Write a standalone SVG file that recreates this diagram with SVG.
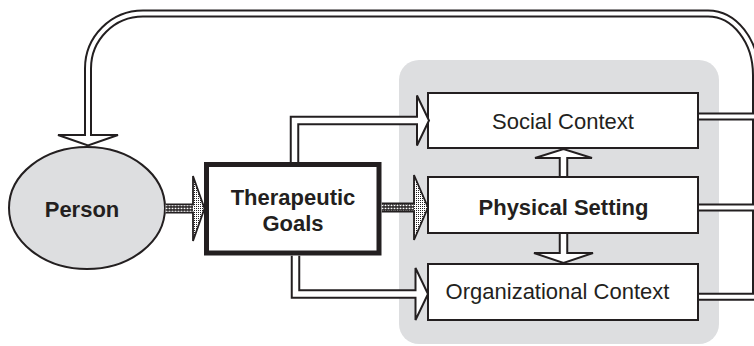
<svg xmlns="http://www.w3.org/2000/svg" width="754" height="346" viewBox="0 0 754 346">
<defs>
<style>
.t{font-family:"Liberation Sans",Arial,Helvetica,sans-serif;font-size:22px;fill:#231f20;text-anchor:middle}
.b{font-weight:bold}
.box{fill:#fff;stroke:#231f20;stroke-width:2}
.ob{fill:none;stroke:#231f20;stroke-width:9.5;stroke-linejoin:miter;stroke-linecap:butt}
.iw{fill:none;stroke:#fff;stroke-width:5.5;stroke-linejoin:miter;stroke-linecap:butt}
.obl{fill:none;stroke:#231f20;stroke-width:8;stroke-linejoin:miter;stroke-linecap:butt}
.iwl{fill:none;stroke:#fff;stroke-width:4;stroke-linejoin:miter;stroke-linecap:butt}
.head{fill:#fff;stroke:#231f20;stroke-width:2;stroke-linejoin:miter}
.dot{fill:url(#pLight);stroke:#231f20;stroke-width:1.8;stroke-linejoin:miter}
</style>
<pattern id="pDark" width="3" height="3" patternUnits="userSpaceOnUse"><rect width="3" height="3" fill="#231f20"/><rect x="0.6" y="0.7" width="1.8" height="1.5" fill="#fff"/></pattern>
<pattern id="pLight" width="2" height="2" patternUnits="userSpaceOnUse"><rect width="2" height="2" fill="#fff"/><rect width="1" height="1" fill="#231f20"/></pattern>
</defs>
<g id="context-panel"><rect x="399" y="60" width="320" height="284" rx="20" fill="#dddee0"/></g>
<g id="person"><ellipse cx="87" cy="208" rx="78" ry="61" fill="#dddee0" stroke="#231f20" stroke-width="2"/><text class="t b" x="82" y="217">Person</text></g>
<g id="therapeutic-goals"><rect x="206.5" y="164.5" width="172.5" height="88.5" fill="#fff" stroke="#231f20" stroke-width="5"/><text class="t b" x="293" y="204.5">Therapeutic</text><text class="t b" x="293" y="230.5">Goals</text></g>
<g id="social-context"><rect class="box" x="428" y="93" width="270" height="55"/><text class="t" x="563" y="128.5">Social Context</text></g>
<g id="physical-setting"><rect class="box" x="428" y="177" width="270" height="56"/><text class="t b" x="563.5" y="215">Physical Setting</text></g>
<g id="organizational-context"><rect class="box" x="428" y="264" width="270" height="56"/><text class="t" x="557.5" y="299">Organizational Context</text></g>
<g id="connectors">
<path class="obl" d="M699,296.7 H756 V75 A48,61.5 0 0 0 708,13.5 H143 A55,55 0 0 0 88,68.5 V136"/>
<path class="obl" d="M699,116.5 H756"/>
<path class="obl" d="M699,207.5 H756"/>
<path class="ob" d="M294.5,162 V120.5 H418"/>
<path class="ob" d="M295.5,255.75 V294 H417"/>
<path class="ob" d="M563.5,176 V158"/>
<path class="ob" d="M563.5,234 V253"/>
<polygon class="head" points="58,135 118,135 88,145.5"/>
<polygon class="head" points="417,95.5 429,120.5 417,145.5"/>
<polygon class="head" points="415.5,268 428,294 415.5,320"/>
<polygon class="head" points="535,158 592,158 563.5,149"/>
<polygon class="head" points="534,253 593,253 563.5,263"/>
<path class="iwl" d="M699,296.7 H756 V75 A48,61.5 0 0 0 708,13.5 H143 A55,55 0 0 0 88,68.5 V136.3"/>
<path class="iwl" d="M699,116.5 H756"/>
<path class="iwl" d="M699,207.5 H756"/>
<path class="iw" d="M294.5,162 V120.5 H419.2"/>
<path class="iw" d="M295.5,255.75 V294 H417.7"/>
<path class="iw" d="M563.5,176 V156.8"/>
<path class="iw" d="M563.5,234 V254.2"/>
<path class="dot" d="M165.5,204.5 H193 V176 L204.5,208.5 L193,241 V212.5 H165.5"/>
<rect x="165.5" y="205.4" width="27.5" height="6.2" fill="url(#pDark)"/>
<path class="dot" d="M381.75,203.5 H414 V175 L428,207.5 L414,240 V211.5 H381.75"/>
<rect x="381.75" y="204.4" width="32.25" height="6.2" fill="url(#pDark)"/>
</g>
</svg>
